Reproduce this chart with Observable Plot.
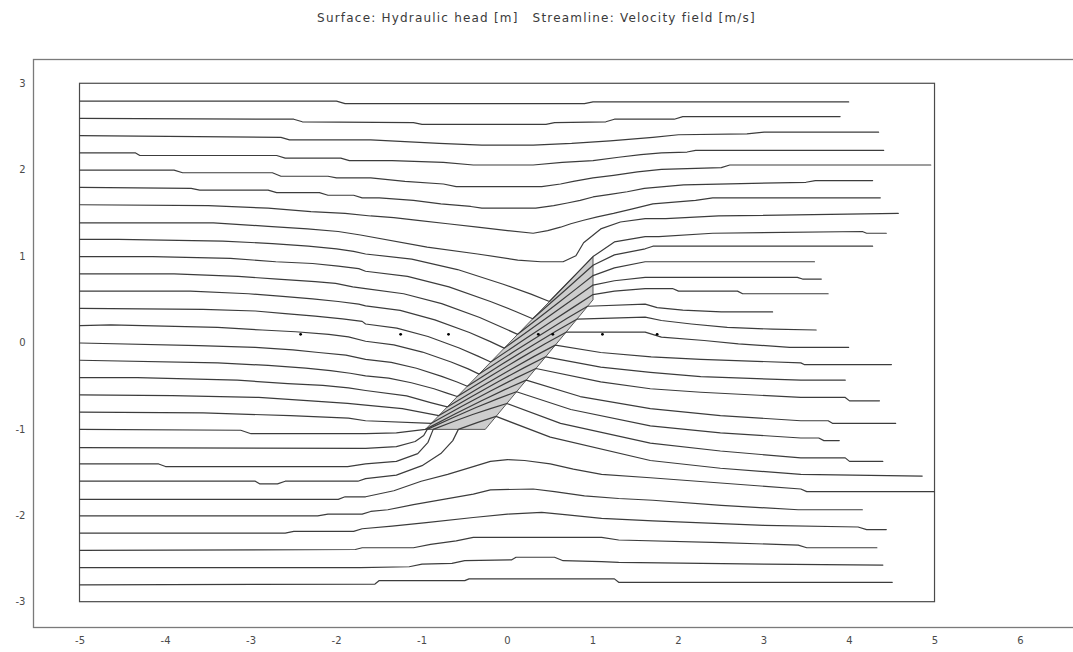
<!DOCTYPE html>
<html>
<head>
<meta charset="utf-8">
<script src="https://cdn.jsdelivr.net/npm/d3@7"></script>
<script src="https://cdn.jsdelivr.net/npm/@observablehq/plot@0.6"></script>
<style>
  html, body { margin: 0; padding: 0; background: #fff; overflow: hidden; }
  #title { height: 40px; box-sizing: border-box; padding-top: 11px; text-align: center;
           font-family: "DejaVu Sans", sans-serif; font-size: 12px; letter-spacing: 1.2px; line-height: 14px; color: #3a3a3a; }
  #title span { margin: 0 7px; }
</style>
</head>
<body>
<div id="title"><span>Surface: Hydraulic head [m]</span><span>Streamline: Velocity field [m/s]</span></div>
<div id="chart"></div>
<script>
// ---- tick labels ----
const xTickValues = [-5, -4, -3, -2, -1, 0, 1, 2, 3, 4, 5, 6];
const yTickValues = [-3, -2, -1, 0, 1, 2, 3];

// ---- model domain and fracture (high-permeability band) ----
const domainX = [-5, 5];
const domainY = [-3, 3];
const fractureCorners = [[-0.96, -1.0], [-0.26, -1.0], [1.0, 0.5], [1.0, 1.0], [-0.96, -1.0]];

// ---- small arrow marks seen on the plot ----
const markX = [-2.42, -1.25, -0.69, 0.36, 0.53, 1.11, 1.75];
const markY = [0.1, 0.1, 0.1, 0.1, 0.1, 0.1, 0.1];

// ---- streamlines, seeded on the left boundary (x = -5) ----
const line01 = [[-5,2.8],[-2.0,2.8],[-1.9,2.77],[0.9,2.77],[1.0,2.79],[3.99,2.79]];
const line02 = [[-5,2.6],[-2.5,2.59],[-2.4,2.56],[-1.1,2.55],[-1.0,2.53],[0.45,2.53],[0.55,2.55],[1.15,2.56],[1.25,2.59],[1.95,2.59],[2.05,2.62],[3.89,2.62]];
const line03 = [[-5,2.4],[-2.65,2.38],[-2.55,2.35],[-1.6,2.35],[-1.2,2.33],[-0.8,2.31],[-0.3,2.29],[0.3,2.29],[0.75,2.31],[1.2,2.34],[1.7,2.38],[2.0,2.41],[2.8,2.42],[3.0,2.44],[4.34,2.44]];
const line04 = [[-5,2.2],[-4.35,2.2],[-4.3,2.17],[-2.7,2.17],[-2.6,2.14],[-1.95,2.14],[-1.85,2.11],[-1.35,2.11],[-0.75,2.09],[-0.4,2.06],[0.3,2.06],[0.64,2.09],[1.0,2.11],[1.3,2.15],[1.56,2.18],[1.8,2.2],[2.1,2.21],[2.2,2.23],[4.4,2.23]];
const line05 = [[-5,2.0],[-3.9,2.0],[-3.8,1.97],[-2.75,1.97],[-2.65,1.93],[-2.1,1.93],[-2.0,1.91],[-1.6,1.91],[-1.2,1.87],[-0.75,1.84],[-0.6,1.81],[0.4,1.81],[0.62,1.84],[0.77,1.87],[1.0,1.91],[1.24,1.94],[1.52,1.98],[1.8,2.01],[2.5,2.03],[2.6,2.06],[4.95,2.06]];
const line06 = [[-5,1.8],[-3.7,1.79],[-3.6,1.77],[-2.8,1.77],[-2.7,1.74],[-2.2,1.74],[-2.1,1.71],[-1.8,1.71],[-1.7,1.68],[-1.5,1.68],[-1.1,1.65],[-0.78,1.61],[-0.43,1.58],[-0.3,1.56],[0.33,1.56],[0.54,1.59],[0.7,1.62],[0.85,1.65],[1.0,1.69],[1.2,1.72],[1.4,1.75],[1.6,1.79],[2.06,1.83],[3.49,1.86],[3.6,1.88],[4.27,1.88]];
const line07 = [[-5,1.6],[-3.5,1.59],[-2.8,1.56],[-2.3,1.52],[-1.9,1.5],[-1.6,1.47],[-1.33,1.45],[-1.05,1.42],[-0.7,1.38],[-0.35,1.34],[0,1.30],[0.3,1.27],[0.47,1.30],[0.62,1.34],[0.74,1.38],[0.89,1.42],[1.05,1.46],[1.24,1.50],[1.45,1.55],[1.7,1.61],[2.2,1.65],[2.4,1.68],[4.36,1.68]];
const line08 = [[-5,1.39],[-3.44,1.39],[-2.8,1.35],[-2.34,1.32],[-1.98,1.29],[-1.72,1.25],[-0.94,1.11],[-0.35,1.03],[0.12,0.96],[0.39,0.94],[0.65,0.94],[0.8,1.01],[0.89,1.16],[1.09,1.32],[1.32,1.40],[1.61,1.44],[1.85,1.44],[2.47,1.47],[4.57,1.50]];
const line09 = [[-5,1.2],[-4.55,1.2],[-3.33,1.18],[-2.75,1.15],[-2.33,1.12],[-2.0,1.09],[-1.8,1.06],[-1.66,1.03],[-1.12,0.97],[-0.585,0.85],[-0.05,0.68],[0.275,0.565],[0.49,0.48],[1.0,1.0],[1.25,1.17],[1.61,1.23],[1.77,1.23],[2.4,1.27],[4.15,1.29],[4.2,1.27],[4.43,1.27]];
const line10 = [[-5,1.0],[-4.15,1.0],[-3.24,0.98],[-2.71,0.94],[-2.28,0.92],[-1.98,0.89],[-1.74,0.86],[-1.66,0.83],[-1.17,0.77],[-0.685,0.65],[-0.2,0.48],[0.095,0.365],[0.294,0.28],[0.48,0.442],[0.66,0.599],[0.833,0.752],[1.0,0.9],[1.25,1.02],[1.61,1.09],[1.7,1.12],[4.27,1.12]];
const line11 = [[-5,0.8],[-3.9,0.8],[-3.15,0.77],[-2.69,0.74],[-2.25,0.71],[-2.01,0.69],[-1.81,0.65],[-1.66,0.63],[-1.215,0.57],[-0.77,0.455],[-0.325,0.295],[-0.06,0.18],[0.118,0.10],[0.364,0.289],[0.594,0.465],[0.806,0.629],[1.0,0.78],[1.25,0.87],[1.61,0.94],[3.59,0.94]];
const line12 = [[-5,0.6],[-3.71,0.6],[-3.03,0.57],[-2.63,0.54],[-2.28,0.51],[-1.98,0.48],[-1.74,0.45],[-1.66,0.43],[-1.255,0.377],[-0.85,0.268],[-0.445,0.121],[-0.2,0.016],[-0.039,-0.06],[0.267,0.155],[0.542,0.349],[0.786,0.52],[1.0,0.67],[1.25,0.72],[1.61,0.76],[3.39,0.76],[3.45,0.74],[3.67,0.74]];
const line13 = [[-5,0.4],[-3.56,0.39],[-2.95,0.37],[-2.6,0.34],[-2.25,0.31],[-1.93,0.28],[-1.7,0.25],[-1.66,0.22],[-1.295,0.172],[-0.93,0.075],[-0.565,-0.058],[-0.346,-0.152],[-0.196,-0.22],[0.174,0.025],[0.496,0.237],[0.772,0.415],[1.0,0.56],[1.25,0.60],[1.61,0.63],[1.93,0.63],[2.0,0.60],[2.69,0.60],[2.75,0.57],[3.75,0.57]];
const line14 = [[-5,0.2],[-4.64,0.21],[-3.39,0.18],[-2.87,0.15],[-2.48,0.13],[-2.09,0.10],[-1.86,0.07],[-1.66,0.02],[-1.33,-0.021],[-0.995,-0.105],[-0.66,-0.22],[-0.46,-0.30],[-0.333,-0.36],[0.067,-0.105],[0.412,0.111],[0.702,0.288],[0.937,0.425],[1.61,0.45],[1.75,0.41],[2.05,0.38],[2.5,0.36],[3.1,0.36]];
const line15 = [[-5,0.0],[-3.61,-0.03],[-2.95,-0.05],[-2.51,-0.08],[-2.21,-0.11],[-1.89,-0.14],[-1.66,-0.19],[-1.36,-0.224],[-1.065,-0.292],[-0.77,-0.386],[-0.59,-0.452],[-0.47,-0.5],[-0.071,-0.25],[0.276,-0.038],[0.57,0.138],[0.811,0.275],[1.61,0.30],[1.8,0.26],[2.15,0.22],[2.57,0.18],[3.1,0.16],[3.61,0.15]];
const line16 = [[-5,-0.2],[-3.39,-0.23],[-2.8,-0.26],[-2.36,-0.29],[-2.07,-0.32],[-1.84,-0.35],[-1.66,-0.38],[-1.39,-0.406],[-1.125,-0.46],[-0.86,-0.53],[-0.70,-0.583],[-0.588,-0.62],[-0.196,-0.381],[0.147,-0.178],[0.44,-0.009],[0.685,0.125],[1.61,0.125],[1.8,0.067],[2.3,0.029],[2.7,-0.01],[3.3,-0.05],[3.99,-0.05]];
const line17 = [[-5,-0.4],[-4.33,-0.4],[-3.16,-0.43],[-2.57,-0.47],[-2.16,-0.49],[-1.86,-0.52],[-1.66,-0.55],[-1.18,-0.613],[-0.9,-0.69],[-0.705,-0.74],[-0.321,-0.513],[0.018,-0.318],[0.311,-0.155],[0.559,-0.025],[1.09,-0.11],[1.68,-0.16],[2.26,-0.19],[3.43,-0.23],[3.47,-0.25],[4.49,-0.25]];
const line18 = [[-5,-0.6],[-3.92,-0.61],[-2.91,-0.63],[-2.3,-0.67],[-1.87,-0.70],[-1.66,-0.72],[-1.23,-0.76],[-0.803,-0.84],[-0.428,-0.625],[-0.095,-0.44],[0.196,-0.285],[0.446,-0.16],[1.09,-0.28],[1.67,-0.34],[2.26,-0.39],[3.43,-0.43],[3.95,-0.43]];
const line19 = [[-5,-0.8],[-3.56,-0.81],[-2.54,-0.84],[-1.86,-0.87],[-1.66,-0.90],[-0.891,-0.93],[-0.528,-0.730],[-0.204,-0.558],[0.083,-0.413],[0.332,-0.295],[1.09,-0.45],[1.67,-0.53],[2.26,-0.57],[3.43,-0.63],[3.95,-0.63],[4.0,-0.67],[4.35,-0.67]];
const line20 = [[-5,-1.0],[-3.12,-1.01],[-3.0,-1.05],[-1.66,-1.05],[-1.3,-1.04],[-0.96,-1.0],[-0.615,-0.822],[-0.304,-0.668],[-0.026,-0.537],[0.219,-0.43],[0.85,-0.62],[1.67,-0.76],[2.49,-0.84],[3.43,-0.90],[3.75,-0.90],[3.8,-0.93],[4.54,-0.93]];
const line21 = [[-5,-1.21],[-1.66,-1.22],[-1.3,-1.2],[-1.08,-1.14],[-0.98,-1.07],[-0.939,-1.0],[-0.641,-0.865],[-0.368,-0.747],[-0.119,-0.647],[0.105,-0.565],[0.74,-0.77],[1.67,-0.96],[2.49,-1.04],[3.43,-1.10],[3.64,-1.10],[3.7,-1.13],[3.88,-1.13]];
const line22 = [[-5,-1.4],[-4.08,-1.40],[-4.0,-1.43],[-1.87,-1.43],[-1.66,-1.40],[-1.3,-1.37],[-1.05,-1.28],[-0.93,-1.15],[-0.869,-1.0],[-0.631,-0.909],[-0.408,-0.828],[-0.2,-0.759],[-0.008,-0.70],[0.62,-0.93],[1.67,-1.16],[2.49,-1.25],[3.43,-1.33],[3.95,-1.33],[4.0,-1.37],[4.39,-1.37]];
const line23 = [[-5,-1.6],[-2.95,-1.60],[-2.9,-1.63],[-2.69,-1.63],[-2.6,-1.60],[-1.75,-1.60],[-1.66,-1.57],[-1.3,-1.53],[-1.0,-1.42],[-0.78,-1.28],[-0.64,-1.13],[-0.575,-1.0],[-0.347,-0.919],[-0.134,-0.85],[0.5,-1.09],[1.67,-1.36],[2.49,-1.45],[3.43,-1.52],[4.85,-1.54]];
const line24 = [[-5,-1.81],[-1.98,-1.81],[-1.9,-1.78],[-1.66,-1.78],[-1.33,-1.71],[-1.01,-1.60],[-0.7,-1.52],[-0.43,-1.44],[-0.2,-1.37],[0,-1.35],[0.2,-1.36],[0.5,-1.40],[0.77,-1.46],[1.1,-1.52],[1.67,-1.56],[3.43,-1.69],[3.5,-1.72],[4.99,-1.72]];
const line25 = [[-5,-2.0],[-2.22,-2.0],[-2.1,-1.98],[-1.7,-1.98],[-1.6,-1.95],[-1.4,-1.93],[-1.1,-1.87],[-0.75,-1.81],[-0.4,-1.75],[-0.2,-1.70],[0.3,-1.69],[0.55,-1.72],[0.9,-1.77],[1.3,-1.80],[1.7,-1.82],[2.5,-1.88],[3.4,-1.93],[4.15,-1.93]];
const line26 = [[-5,-2.2],[-2.6,-2.2],[-2.5,-2.18],[-1.8,-2.18],[-1.7,-2.15],[-1.35,-2.12],[-0.95,-2.08],[-0.4,-2.02],[0,-1.98],[0.4,-1.96],[0.7,-1.99],[1.1,-2.03],[1.7,-2.06],[3.0,-2.11],[4.1,-2.13],[4.2,-2.16],[4.43,-2.16]];
const line27 = [[-5,-2.4],[-1.78,-2.39],[-1.7,-2.37],[-1.1,-2.37],[-0.9,-2.33],[-0.6,-2.29],[-0.4,-2.25],[1.1,-2.25],[1.3,-2.28],[2.5,-2.31],[3.4,-2.34],[3.5,-2.37],[4.32,-2.37]];
const line28 = [[-5,-2.6],[-1.72,-2.6],[-1.15,-2.59],[-1.0,-2.56],[-0.65,-2.55],[-0.5,-2.52],[0.05,-2.51],[0.1,-2.48],[0.55,-2.48],[0.65,-2.52],[1.1,-2.53],[1.3,-2.54],[3.0,-2.56],[4.39,-2.57]];
const line29 = [[-5,-2.8],[-1.55,-2.79],[-1.5,-2.75],[-0.5,-2.75],[-0.45,-2.73],[1.25,-2.73],[1.3,-2.77],[4.5,-2.77]];

const streamlines = [line01,line02,line03,line04,line05,line06,line07,line08,line09,line10,
  line11,line12,line13,line14,line15,line16,line17,line18,line19,line20,
  line21,line22,line23,line24,line25,line26,line27,line28,line29];

// long-format table for Plot
const streamTable = streamlines.flatMap((pts, i) => pts.map(([x, y]) => ({x, y, id: i})));
const fractureTable = fractureCorners.map(([x, y]) => ({x, y}));
const markTable = markX.map((x, i) => ({x, y: markY[i]}));
const boxTable = [{x1: domainX[0], x2: domainX[1], y1: domainY[0], y2: domainY[1]}];

const chart = Plot.plot({
  width: 1073,
  height: 612,
  marginTop: 19,
  marginBottom: 25,
  marginLeft: 33,
  marginRight: -2,
  style: {fontFamily: "DejaVu Sans, sans-serif", fontSize: "10px", color: "#4a4a4a", background: "#fff"},
  x: {domain: [-5.544, 6.643], ticks: xTickValues, tickSize: 0, tickPadding: 9, tickFormat: d => String(d), label: null},
  y: {domain: [-3.293, 3.281], ticks: yTickValues, tickSize: 0, tickPadding: 8, tickFormat: d => String(d), label: null},
  marks: [
    Plot.frame({stroke: "#7a7a7a", strokeWidth: 1.3}),
    Plot.rect(boxTable, {x1: "x1", x2: "x2", y1: "y1", y2: "y2", fill: "none", stroke: "#4a4a4a", strokeWidth: 1.2}),
    Plot.line(fractureTable, {x: "x", y: "y", fill: "#cdcdcd", stroke: "#333", strokeWidth: 0.8}),
    Plot.line(streamTable, {x: "x", y: "y", z: "id", stroke: "#3c3c3c", strokeWidth: 1.2}),
    Plot.dot(markTable, {x: "x", y: "y", r: 1.4, fill: "#000", stroke: "none"})
  ]
});
document.getElementById("chart").appendChild(chart);
</script>
</body>
</html>
